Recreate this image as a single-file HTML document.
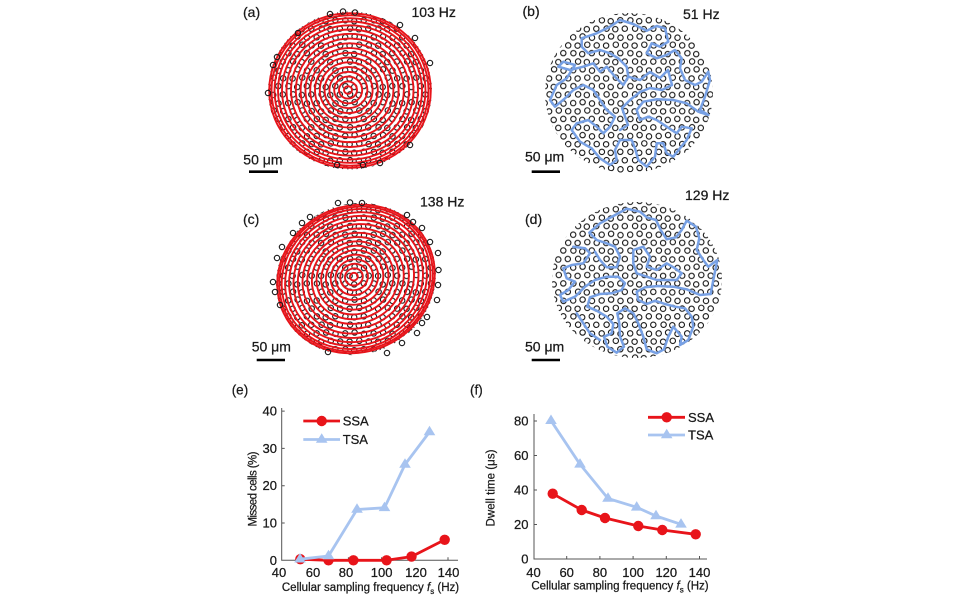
<!DOCTYPE html>
<html><head><meta charset="utf-8">
<style>
html,body{margin:0;padding:0;background:#fff;}
svg{display:block;font-family:"Liberation Sans",Arial,sans-serif;}
text{stroke:#1a1a1a;stroke-width:0.25;}
</style></head>
<body>
<svg width="964" height="600" viewBox="0 0 964 600" xmlns="http://www.w3.org/2000/svg">
<defs>
<pattern id="cells" width="28.5" height="32.9" patternUnits="userSpaceOnUse">
 <g fill="none" stroke="#1a1a1a" stroke-width="1.1">
  <circle cx="3.2" cy="4.4" r="2.7"/><circle cx="12.6" cy="3.5" r="2.7"/><circle cx="22.0" cy="4.8" r="2.7"/>
  <circle cx="7.6" cy="12.7" r="2.7"/><circle cx="17.3" cy="11.8" r="2.7"/><circle cx="26.7" cy="12.5" r="2.7"/><circle cx="-1.8" cy="12.5" r="2.7"/>
  <circle cx="3.4" cy="20.3" r="2.7"/><circle cx="12.2" cy="21.2" r="2.7"/><circle cx="21.8" cy="20.2" r="2.7"/>
  <circle cx="8.1" cy="28.6" r="2.7"/><circle cx="16.8" cy="29.2" r="2.7"/><circle cx="26.3" cy="28.7" r="2.7"/><circle cx="-2.2" cy="28.7" r="2.7"/>
 </g>
</pattern>
<clipPath id="clipA"><ellipse cx="350" cy="90.5" rx="82" ry="79"/></clipPath>
<clipPath id="clipB"><ellipse cx="629" cy="93" rx="84" ry="80"/></clipPath>
<clipPath id="clipC"><ellipse cx="356" cy="279" rx="81" ry="75" transform="rotate(-25 356 279)"/></clipPath>
<clipPath id="clipD"><ellipse cx="637" cy="280" rx="85" ry="78"/></clipPath>
</defs>

<g fill="#1a1a1a" font-size="14">
 <text x="243" y="17">(a)</text>
 <text x="411.5" y="17">103 Hz</text>
 <text x="522.5" y="16">(b)</text>
 <text x="683" y="19">51 Hz</text>
 <text x="243" y="224">(c)</text>
 <text x="420" y="206.5">138 Hz</text>
 <text x="525" y="224">(d)</text>
 <text x="685" y="200">129 Hz</text>
 <text x="243.3" y="164.5">50 μm</text>
 <text x="525" y="161.5">50 μm</text>
 <text x="251.7" y="351.5">50 μm</text>
 <text x="525" y="351.5">50 μm</text>
</g>
<g stroke="#000" stroke-width="2.6">
 <line x1="249" y1="171.7" x2="278" y2="171.7"/>
 <line x1="531.7" y1="171.7" x2="560" y2="171.7"/>
 <line x1="256.7" y1="360" x2="285" y2="360"/>
 <line x1="531.7" y1="360" x2="560" y2="360"/>
</g>

<!-- Panel (a) -->
<rect x="260" y="5" width="180" height="172" fill="url(#cells)" clip-path="url(#clipA)"/>
<g fill="none" stroke="#e8141a" stroke-width="1.9">
 <ellipse cx="348" cy="90" rx="4" ry="3.8"/>
 <ellipse cx="348" cy="90" rx="9" ry="8.6"/>
 <ellipse cx="348.2" cy="90" rx="14" ry="13.4"/>
 <ellipse cx="348.4" cy="90" rx="19" ry="18.2"/>
 <ellipse cx="348.6" cy="90.1" rx="24" ry="23"/>
 <ellipse cx="348.8" cy="90.1" rx="29" ry="27.8"/>
 <ellipse cx="349" cy="90.2" rx="34" ry="32.6"/>
 <ellipse cx="349.2" cy="90.2" rx="39" ry="37.4"/>
 <ellipse cx="349.4" cy="90.3" rx="44" ry="42.2"/>
 <ellipse cx="349.6" cy="90.3" rx="49" ry="47"/>
 <ellipse cx="349.8" cy="90.4" rx="54" ry="51.8"/>
 <ellipse cx="350" cy="90.4" rx="59" ry="56.6"/>
 <ellipse cx="350" cy="90.5" rx="63.5" ry="61"/>
 <ellipse cx="350" cy="90.5" rx="68" ry="65.2"/>
 <ellipse cx="350" cy="90.5" rx="72" ry="69"/>
 <ellipse cx="350" cy="90.5" rx="75.5" ry="72.3"/>
 <ellipse cx="350" cy="90.5" rx="78.5" ry="75.2"/>
 <ellipse cx="350" cy="90.5" rx="80.8" ry="77.3"/>
</g>
<g fill="none" stroke="#1a1a1a" stroke-width="1.1">
 <circle cx="330" cy="14" r="2.7"/><circle cx="343" cy="11.5" r="2.7"/><circle cx="355" cy="12.5" r="2.7"/>
 <circle cx="400" cy="25" r="2.7"/><circle cx="415" cy="38" r="2.7"/><circle cx="430" cy="63" r="2.7"/>
 <circle cx="273" cy="65" r="2.7"/><circle cx="277" cy="57" r="2.7"/><circle cx="268" cy="93" r="2.7"/>
 <circle cx="298" cy="33" r="2.7"/><circle cx="410" cy="145" r="2.7"/><circle cx="380" cy="163" r="2.7"/>
 <circle cx="363" cy="165" r="2.7"/><circle cx="337" cy="165" r="2.7"/>
</g>

<!-- Panel (b) -->
<rect x="540" y="8" width="180" height="170" fill="url(#cells)" clip-path="url(#clipB)"/>
<g fill="none" stroke="#77a0e4" stroke-width="2.5" stroke-linejoin="round" stroke-linecap="round">
<path d="M581.7,38.3 L596.7,33.3 L610,26.7 L620,20 L633.3,24 L646.7,30.7 L656.7,26 L665,28.3 L668.3,41.7 L660,46.7 L651.7,43.3 L646.7,53.3 L656.7,58.3 L666.7,55 L675,50 L681.7,58.3 L680,68.3 L685,80 L695,85 L701.7,81.7 L708.3,71.7 L710,80 L705,96.7 L700,110 L708.3,115 L698.3,111.7 L686.7,103.3 L673.3,100 L656.7,99.3 L643.3,101.7 L636.7,110 L640,120 L648.3,116.7 L656.7,120 L666.7,126.7 L676.7,133.3 L681.7,126.7 L691.7,128.3 L686.7,140 L680,148.3 L673.3,156.7 L666.7,153.3 L663.3,143.3 L656.7,143.3 L655,156.7 L646.7,166.7 L638.3,160 L635,148.3 L631.7,140 L620,140 L615,150 L616.7,160 L610,165 L600,158.3 L591.7,148.3 L580,141.7 L571.7,130 L576.7,123.3 L588.3,120 L596.7,126.7 L603.3,133.3 L610,126.7 L615,116.7 L606.7,110 L600,100 L593.3,90 L583.3,85 L573.3,90 L565,98.3 L555,106.7 L550,100 L556.7,85 L566.7,78.3 L575,65 L563.3,61.7 L558.3,66.7 L570,70 L583.3,66.7 L593.3,63.3 L600,71.7 L606.7,66.7 L615,76.7 L623.3,85 L628.3,76.7 L626.7,66.7 L618.3,58.3 L610,53.3 L600,50 L588.3,53.3 L581.7,46.7 Z"/>
<path d="M628.3,76.7 L640,80 L650,72 L660,78 L668,70 L672,85 L662,90 L650,88 L640,92 L630,100 L622,108 L628,125 L620,130"/>
</g>

<!-- Panel (c) -->
<rect x="268" y="196" width="180" height="166" fill="url(#cells)" clip-path="url(#clipC)"/>
<g fill="none" stroke="#e8141a" stroke-width="1.9" transform="rotate(-25 356 279)">
 <ellipse cx="355" cy="276" rx="4" ry="3.8"/>
 <ellipse cx="355" cy="276.2" rx="9" ry="8.5"/>
 <ellipse cx="355.1" cy="276.4" rx="14" ry="13.1"/>
 <ellipse cx="355.2" cy="276.6" rx="19" ry="17.7"/>
 <ellipse cx="355.3" cy="276.8" rx="24" ry="22.3"/>
 <ellipse cx="355.4" cy="277" rx="29" ry="26.9"/>
 <ellipse cx="355.5" cy="277.3" rx="34" ry="31.4"/>
 <ellipse cx="355.6" cy="277.6" rx="39" ry="35.9"/>
 <ellipse cx="355.7" cy="277.9" rx="44" ry="40.4"/>
 <ellipse cx="355.8" cy="278.2" rx="49" ry="44.8"/>
 <ellipse cx="355.9" cy="278.5" rx="54" ry="49.3"/>
 <ellipse cx="356" cy="278.8" rx="59" ry="53.8"/>
 <ellipse cx="356" cy="279" rx="63.5" ry="57.9"/>
 <ellipse cx="356" cy="279" rx="68" ry="62"/>
 <ellipse cx="356" cy="279" rx="72" ry="65.6"/>
 <ellipse cx="356" cy="279" rx="75.5" ry="68.8"/>
 <ellipse cx="356" cy="279" rx="78" ry="71.1"/>
 <ellipse cx="356" cy="279" rx="80" ry="73"/>
</g>
<g fill="none" stroke="#1a1a1a" stroke-width="1.1">
 <circle cx="338" cy="203" r="2.7"/><circle cx="350" cy="202.5" r="2.7"/><circle cx="362" cy="203" r="2.7"/>
 <circle cx="407" cy="215" r="2.7"/><circle cx="413" cy="222" r="2.7"/><circle cx="422" cy="228" r="2.7"/>
 <circle cx="430" cy="242" r="2.7"/><circle cx="438" cy="253" r="2.7"/><circle cx="438.5" cy="270" r="2.7"/>
 <circle cx="438" cy="285" r="2.7"/><circle cx="437" cy="300" r="2.7"/><circle cx="427" cy="317" r="2.7"/>
 <circle cx="422" cy="323" r="2.7"/><circle cx="417" cy="333" r="2.7"/><circle cx="402" cy="343" r="2.7"/>
 <circle cx="387" cy="353" r="2.7"/><circle cx="310" cy="217" r="2.7"/><circle cx="302" cy="223" r="2.7"/>
 <circle cx="293" cy="233" r="2.7"/><circle cx="282" cy="247" r="2.7"/><circle cx="277" cy="258" r="2.7"/>
 <circle cx="273" cy="282" r="2.7"/><circle cx="275" cy="292" r="2.7"/><circle cx="280" cy="305" r="2.7"/>
 <circle cx="328" cy="352" r="2.7"/>
</g>

<!-- Panel (d) -->
<rect x="548" y="198" width="180" height="165" fill="url(#cells)" clip-path="url(#clipD)"/>
<g fill="none" stroke="#77a0e4" stroke-width="2.5" stroke-linejoin="round" stroke-linecap="round">
<path d="M573.3,246.7 L585,248.3 L590,253.3 L583.3,263.3 L571.7,265 L563.3,268.3 L566.7,278.3 L575,281.7 L568.3,290 L560,295 L563.3,301.7 L575,296.7 L585,286.7 L595,280 L606.7,276.7 L618.3,276.7 L625,283.3 L621.7,290 L611.7,293.3 L600,294 L590,297.3 L587.3,306.7 L596.7,310.7 L606.7,316.7 L613.3,324 L611.7,333.3 L604,336.7 L607.3,346.7 L616.7,352.7 L624,346.7 L620,336.7 L619.3,323.3 L617.3,313.3 L625,308.3 L633.3,313.3 L638.3,323.3 L643.3,336.7 L646.7,349.3 L656.7,353.3 L664,349.3 L668.3,336.7 L673.3,326.7 L681.7,336.7 L680,345 L688.3,340 L693.3,326.7 L691.7,316.7 L685,308.3 L675,306.7 L665,304 L655,300.7 L646.7,304 L638.3,300 L636.7,291.7 L645,287.3 L658.3,286 L673.3,286.7 L686.7,289.3 L700,295 L710.7,294 L713.3,280 L717.3,260 L708.3,266.7 L703.3,260 L696.7,250 L699.3,238.3 L696,226.7 L686.7,220.7 L681.7,230 L676,237.3 L666.7,239.3 L660.7,230 L656,220 L646.7,217.3 L640,211.7 L626.7,208.7 L613.3,216 L600,223.3 L589.3,232.7 L596.7,240 L606.7,243.3 L615,246.7 L620,256.7 L616.7,267.3 L606.7,267.3 L600,260 L595,251.7"/>
<path d="M633.3,250 L643.3,246.7 L650,256.7 L646.7,266.7 L656.7,270 L666.7,263.3 L675,268.3 L681.7,273.3 L676.7,280 L666.7,280 L656.7,280 L646.7,276.7 L636.7,273.3 L633.3,263.3 Z"/>
<path d="M576.7,313.3 L583.3,323.3 L590,333.3 L600,340"/>
</g>

<!-- Panel (e) -->
<g fill="#1a1a1a" font-size="13.5">
 <text x="231.7" y="394.5">(e)</text>
 <text x="470" y="394.5">(f)</text>
</g>
<g stroke="#555" stroke-width="1" fill="none">
 <path d="M281.7,408 V560.3 H458"/>
 <path d="M281.7,523 h3 M281.7,485.7 h3 M281.7,448.4 h3 M281.7,411.1 h3"/>
 <path d="M315.2,560.3 v-3 M348.4,560.3 v-3 M381.6,560.3 v-3 M414.8,560.3 v-3 M448,560.3 v-3"/>
</g>
<g fill="#1a1a1a" font-size="13" text-anchor="end">
 <text x="277" y="564.8">0</text>
 <text x="277" y="527.5">10</text>
 <text x="277" y="490.2">20</text>
 <text x="277" y="452.9">30</text>
 <text x="277" y="415.6">40</text>
</g>
<g fill="#1a1a1a" font-size="13" text-anchor="middle">
 <text x="279" y="577">40</text>
 <text x="313" y="577">60</text>
 <text x="346" y="577">80</text>
 <text x="381.6" y="577">100</text>
 <text x="416" y="577">120</text>
 <text x="448.5" y="577">140</text>
</g>
<text x="370.5" y="591" font-size="11.5" fill="#1a1a1a" text-anchor="middle">Cellular sampling frequency <tspan font-style="italic">f</tspan><tspan font-size="8" dy="3">s</tspan><tspan dy="-3"> (Hz)</tspan></text>
<text transform="translate(256.5,489) rotate(-90)" font-size="11.5" fill="#1a1a1a" text-anchor="middle" textLength="75">Missed cells (%)</text>

<polyline points="300.3,559.2 328.5,560.3 353.4,560.3 386.6,560.3 411.5,556.6 444.7,539.8" fill="none" stroke="#e8141a" stroke-width="2.8" stroke-linejoin="round"/>
<g fill="#e8141a">
 <circle cx="300.3" cy="559.2" r="5.2"/><circle cx="328.5" cy="560.3" r="5.2"/><circle cx="353.4" cy="560.3" r="5.2"/>
 <circle cx="386.6" cy="560.3" r="5.2"/><circle cx="411.5" cy="556.6" r="5.2"/><circle cx="444.7" cy="539.8" r="5.2"/>
</g>
<polyline points="300,559.2 328.5,556 357,509.5 384.5,507.8 405,464.5 429.5,432" fill="none" stroke="#a8c4f0" stroke-width="2.8" stroke-linejoin="round"/>
<g fill="#a8c4f0">
 <polygon points="300,553 305.8,562.5 294.2,562.5"/>
 <polygon points="328.5,549.8 334.3,559.3 322.7,559.3"/>
 <polygon points="357,503.3 362.8,512.8 351.2,512.8"/>
 <polygon points="384.5,501.6 390.3,511.1 378.7,511.1"/>
 <polygon points="405,458.3 410.8,467.8 399.2,467.8"/>
 <polygon points="429.5,425.8 435.3,435.3 423.7,435.3"/>
</g>
<line x1="303.3" y1="421" x2="340" y2="421" stroke="#e8141a" stroke-width="2.8"/>
<circle cx="321.7" cy="421" r="5.2" fill="#e8141a"/>
<line x1="303.3" y1="439.5" x2="340" y2="439.5" stroke="#a8c4f0" stroke-width="2.8"/>
<polygon points="321.7,433.3 327.5,442.8 315.9,442.8" fill="#a8c4f0"/>
<g fill="#1a1a1a" font-size="13">
 <text x="342.7" y="425.7">SSA</text>
 <text x="342.7" y="444.2">TSA</text>
</g>

<!-- Panel (f) -->
<g stroke="#555" stroke-width="1" fill="none">
 <path d="M534,414 V559 H707"/>
 <path d="M534,524.5 h3 M534,490 h3 M534,455.5 h3 M534,421 h3"/>
 <path d="M566.7,559 v-3 M599.9,559 v-3 M633.1,559 v-3 M666.3,559 v-3 M699.5,559 v-3"/>
</g>
<g fill="#1a1a1a" font-size="13" text-anchor="end">
 <text x="528.5" y="563.5">0</text>
 <text x="528.5" y="529">20</text>
 <text x="528.5" y="494.5">40</text>
 <text x="528.5" y="460">60</text>
 <text x="528.5" y="425.5">80</text>
</g>
<g fill="#1a1a1a" font-size="13" text-anchor="middle">
 <text x="533.5" y="577">40</text>
 <text x="566.7" y="577">60</text>
 <text x="599.9" y="577">80</text>
 <text x="633.1" y="577">100</text>
 <text x="666.3" y="577">120</text>
 <text x="699.5" y="577">140</text>
</g>
<text x="620" y="589.5" font-size="11.5" fill="#1a1a1a" text-anchor="middle">Cellular sampling frequency <tspan font-style="italic">f</tspan><tspan font-size="8" dy="3">s</tspan><tspan dy="-3"> (Hz)</tspan></text>
<text transform="translate(494.5,488) rotate(-90)" font-size="11.5" fill="#1a1a1a" text-anchor="middle" textLength="77">Dwell time (μs)</text>

<polyline points="552.7,493.7 581.7,510 605,518 638.3,526 662.3,530 695.7,534.3" fill="none" stroke="#e8141a" stroke-width="2.8" stroke-linejoin="round"/>
<g fill="#e8141a">
 <circle cx="552.7" cy="493.7" r="5.2"/><circle cx="581.7" cy="510" r="5.2"/><circle cx="605" cy="518" r="5.2"/>
 <circle cx="638.3" cy="526" r="5.2"/><circle cx="662.3" cy="530" r="5.2"/><circle cx="695.7" cy="534.3" r="5.2"/>
</g>
<polyline points="551,420.7 580,464.3 608,498.5 636.7,507.3 656,516 681,524.3" fill="none" stroke="#a8c4f0" stroke-width="2.8" stroke-linejoin="round"/>
<g fill="#a8c4f0">
 <polygon points="551,414.5 556.8,424 545.2,424"/>
 <polygon points="580,458.1 585.8,467.6 574.2,467.6"/>
 <polygon points="608,492.3 613.8,501.8 602.2,501.8"/>
 <polygon points="636.7,501.1 642.5,510.6 630.9,510.6"/>
 <polygon points="656,509.8 661.8,519.3 650.2,519.3"/>
 <polygon points="681,518.1 686.8,527.6 675.2,527.6"/>
</g>
<line x1="648" y1="417.3" x2="685" y2="417.3" stroke="#e8141a" stroke-width="2.8"/>
<circle cx="666.7" cy="417.3" r="5.2" fill="#e8141a"/>
<line x1="648" y1="435" x2="685" y2="435" stroke="#a8c4f0" stroke-width="2.8"/>
<polygon points="666.7,428.8 672.5,438.3 660.9,438.3" fill="#a8c4f0"/>
<g fill="#1a1a1a" font-size="13">
 <text x="688" y="422">SSA</text>
 <text x="688" y="439.7">TSA</text>
</g>
</svg>
</body></html>
